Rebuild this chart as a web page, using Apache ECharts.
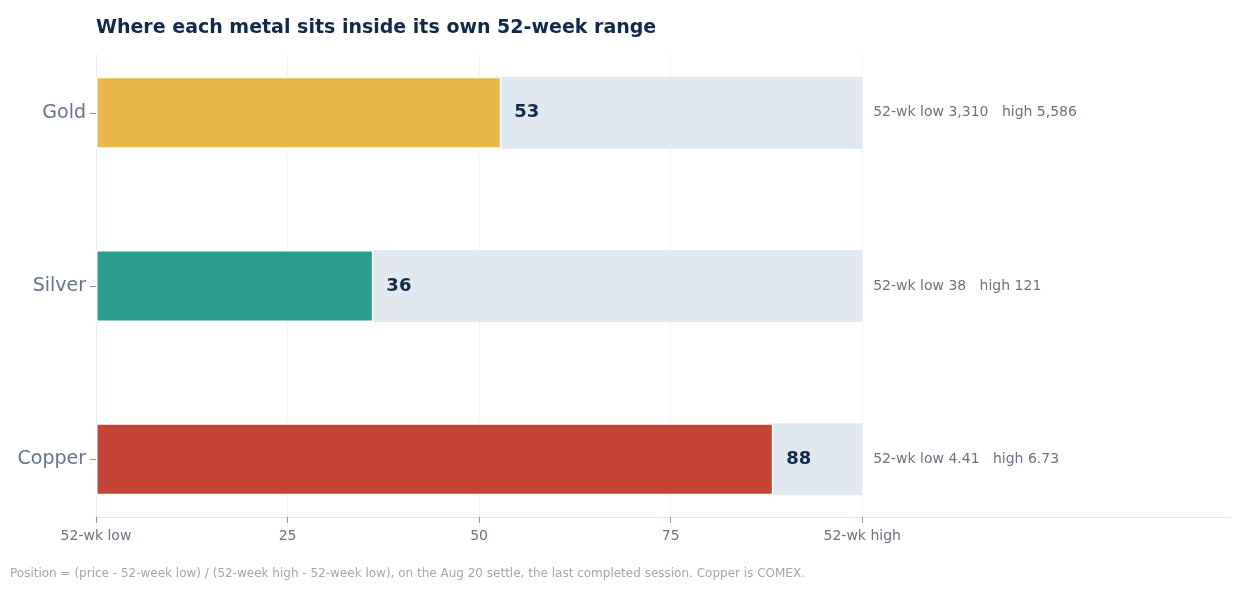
<!DOCTYPE html>
<html>
<head>
<meta charset="utf-8">
<script src="https://cdn.jsdelivr.net/npm/echarts@6/dist/echarts.min.js"></script>
<style>
  html, body { margin: 0; padding: 0; background: #fff; }
  #main { width: 1248px; height: 590px; }
</style>
</head>
<body>
<div id="main"></div>
<script>
var metals = ['Gold', 'Silver', 'Copper'];
var positions = [52.9, 36.2, 88.4];    // 0 = 52-wk low, 100 = 52-wk high
var colors = ['#e8b84b', '#2a9d8f', '#c44536'];
var lows = ['3,310', '38', '4.41'];
var highs = ['5,586', '121', '6.73'];
var xTicks = [0, 25, 50, 75, 100];

// padded category list so the bars sit like the original (blank slots between)
var cats = [''];
metals.forEach(function (m, i) {
    cats.push(m);
    if (i < metals.length - 1) cats.push('', '');
});
cats.push('');

function fill(fn) {
    return cats.map(function (c) {
        var i = metals.indexOf(c);
        return i < 0 ? '-' : fn(i);
    });
}

var myChart = echarts.init(document.getElementById('main'));
myChart.setOption({
    animation: false,
    title: {
        text: 'Where each metal sits inside its own 52-week range',
        left: 91, top: 14,
        textStyle: { fontSize: 19, fontWeight: 'bold', color: '#0f2a4a', fontFamily: 'DejaVu Sans' }
    },
    graphic: [{
        type: 'text', left: 10, top: 568,
        style: {
            text: 'Position = (price - 52-week low) / (52-week high - 52-week low), on the Aug 20 settle, the last completed session. Copper is COMEX.',
            fill: '#a0a7b2', fontSize: 12, fontFamily: 'DejaVu Sans'
        }
    }],
    grid: { left: 96, right: 18, top: 55, bottom: 73 },
    xAxis: {
        type: 'value', min: 0, max: 148, interval: 25,
        axisLine: { show: true, lineStyle: { color: '#e2e6ec' } },
        axisTick: { show: true, customValues: xTicks, length: 6, lineStyle: { color: '#8a93a0' } },
        splitLine: { show: true, lineStyle: { color: '#f1f3f6' } },
        axisLabel: {
            customValues: xTicks, color: '#6b7280', fontSize: 14, margin: 12, fontFamily: 'DejaVu Sans',
            formatter: function (v) {
                if (v === 0) return '52-wk low';
                if (v === 100) return '52-wk high';
                return v;
            }
        }
    },
    yAxis: {
        type: 'category', data: cats, inverse: true, boundaryGap: false,
        axisLine: { show: true, lineStyle: { color: '#e6e9ee' } },
        axisTick: {
            show: true, length: 6, lineStyle: { color: '#8a93a0' },
            interval: function (i, v) { return v !== ''; }
        },
        axisLabel: { interval: 0, color: '#64748b', fontSize: 19, margin: 10, fontFamily: 'DejaVu Sans' }
    },
    series: [{
        name: 'range', type: 'bar', barWidth: 72, barGap: '-100%', silent: true,
        itemStyle: { color: '#e2e8f0' },
        label: {
            show: true, position: 'right', distance: 11,
            color: '#6b7280', fontSize: 14, fontFamily: 'DejaVu Sans',
            formatter: function (p) {
                var i = metals.indexOf(p.name);
                return '52-wk low ' + lows[i] + '   high ' + highs[i];
            }
        },
        data: fill(function () { return 100; })
    }, {
        name: 'position', type: 'bar', barWidth: 72, barGap: '-100%',
        label: {
            show: true, position: 'right', distance: 13,
            color: '#0f2a4a', fontSize: 18, fontWeight: 'bold', fontFamily: 'DejaVu Sans',
            formatter: function (p) { return Math.round(p.value); }
        },
        data: fill(function (i) {
            return { value: positions[i], itemStyle: { color: colors[i], borderColor: '#fff', borderWidth: 1.5 } };
        })
    }]
});
</script>
</body>
</html>
